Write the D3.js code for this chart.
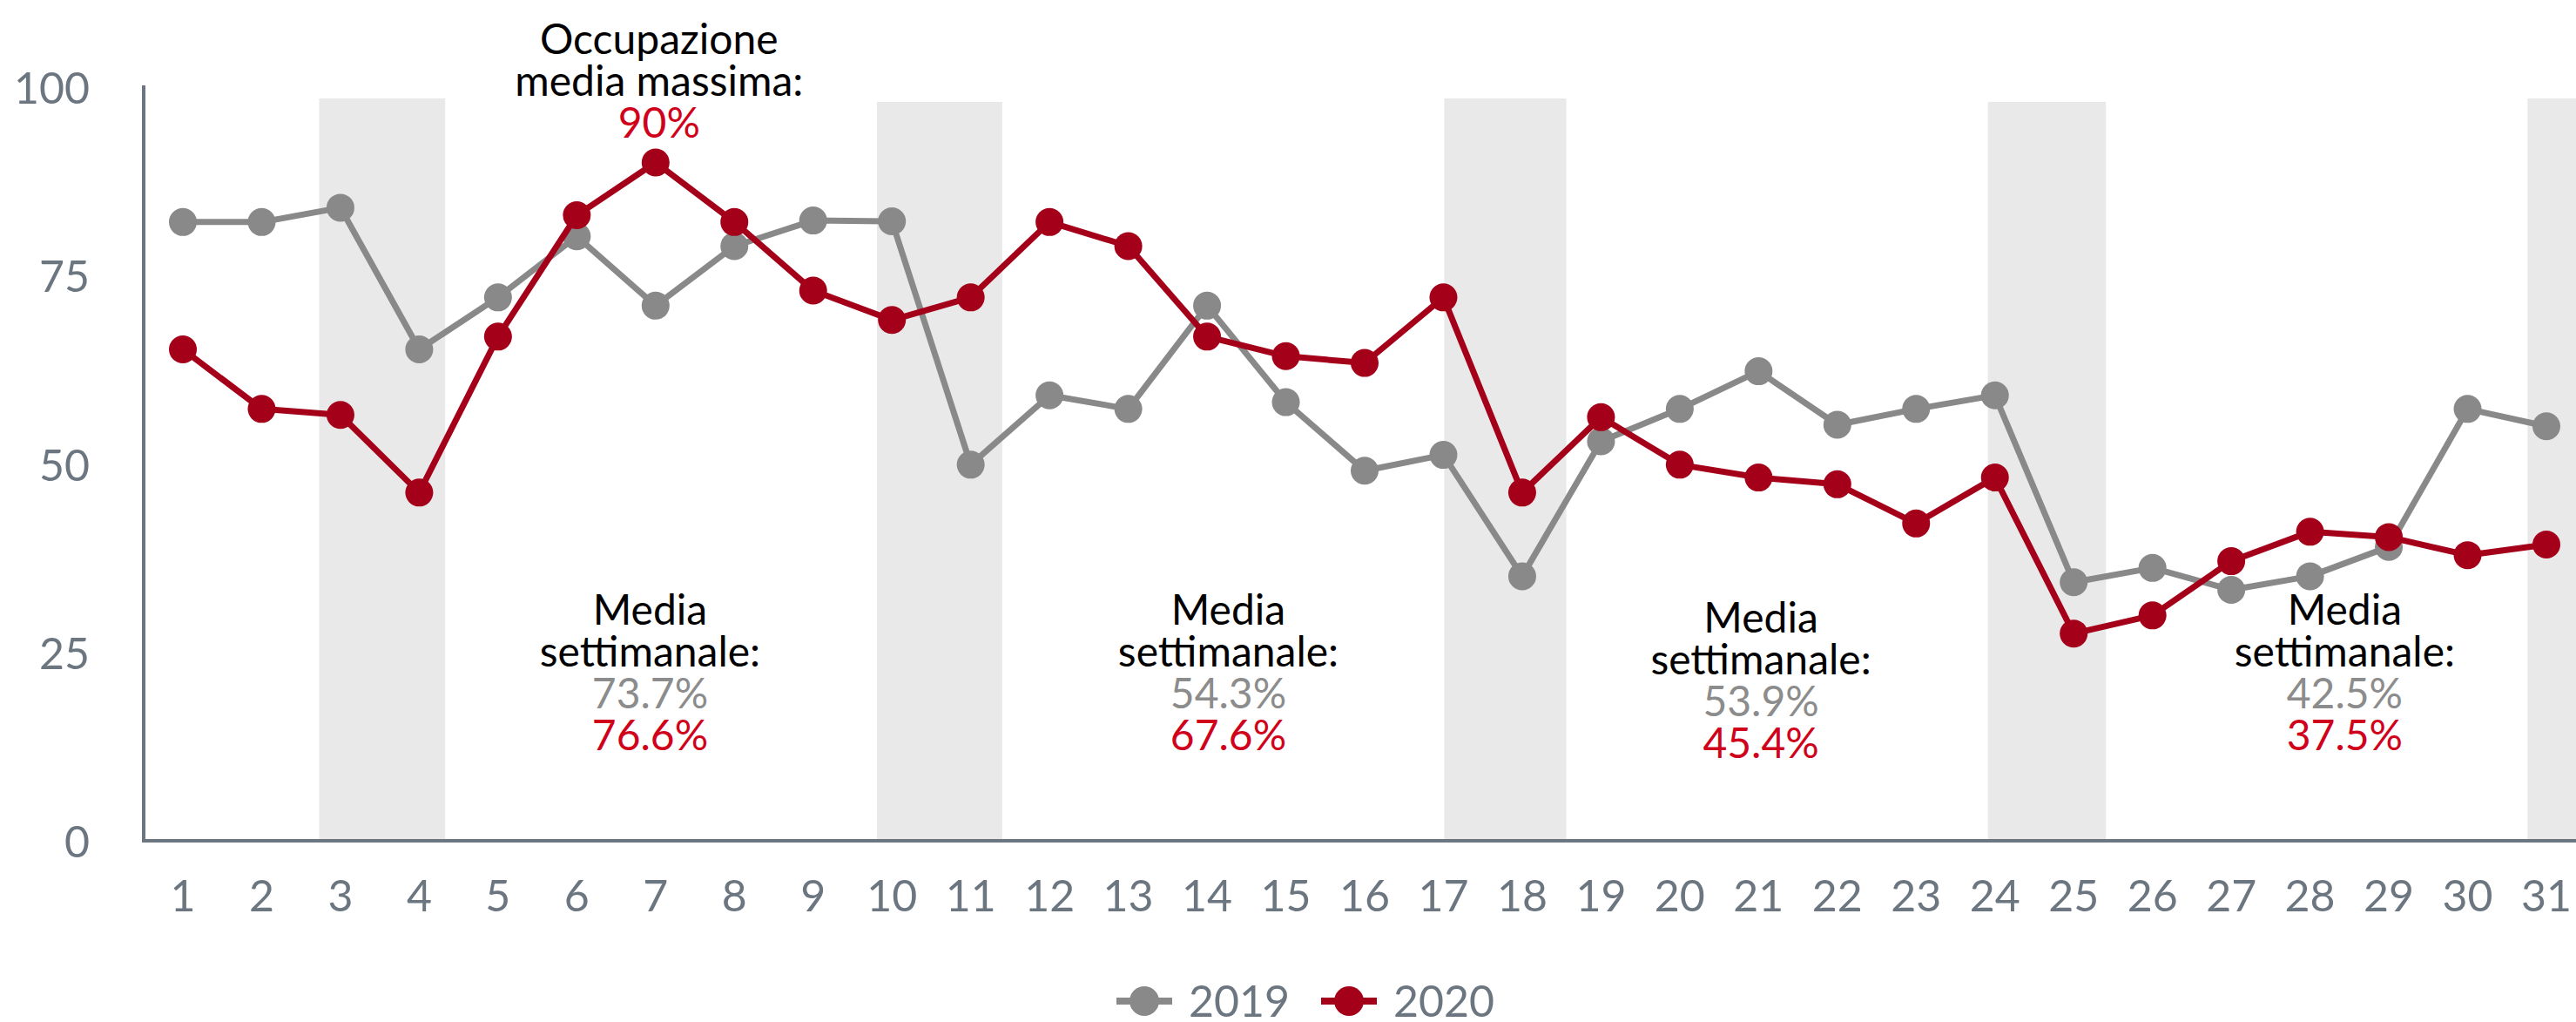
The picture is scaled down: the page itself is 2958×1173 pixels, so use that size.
<!DOCTYPE html>
<html>
<head>
<meta charset="utf-8">
<script src="https://cdnjs.cloudflare.com/ajax/libs/d3/7.8.5/d3.min.js"></script>
<style>
  html, body { margin: 0; padding: 0; background: #fff; overflow: hidden; }
</style>
</head>
<body>
<div id="chart"></div>
<script>
// ---------- data ----------
var days = [1, 2, 3, 4, 5, 6, 7, 8, 9, 10, 11, 12, 13, 14, 15, 16, 17, 18, 19, 20,
            21, 22, 23, 24, 25, 26, 27, 28, 29, 30, 31];

var values2019 = [82.1, 82.1, 84.0, 65.2, 72.1, 80.2, 71.0, 78.9, 82.3, 82.2,
                  49.9, 59.1, 57.3, 71.0, 58.2, 49.1, 51.2, 35.1, 53.0, 57.3,
                  62.3, 55.2, 57.3, 59.1, 34.3, 36.2, 33.3, 35.1, 39.0, 57.3, 55.0];

var values2020 = [65.2, 57.3, 56.5, 46.2, 66.9, 83.0, 90.0, 82.1, 73.0, 69.1,
                  72.1, 82.1, 78.9, 66.9, 64.3, 63.4, 72.1, 46.2, 56.2, 49.9,
                  48.2, 47.3, 42.1, 48.2, 27.5, 29.9, 37.1, 41.0, 40.3, 37.9, 39.3];

var seriesNames = ["2019", "2020"];
var yTicks = [0, 25, 50, 75, 100];

// weekend shading, in day units (start, end)
var weekendBands = [[2.73, 4.33], [9.81, 11.40], [17.01, 18.56], [23.91, 25.41], [30.76, 31.45]];

var weekAvg2019 = ["73.7%", "54.3%", "53.9%", "42.5%"];
var weekAvg2020 = ["76.6%", "67.6%", "45.4%", "37.5%"];
var maxLabel = "90%";

// ---------- settings ----------
var attrs = {
    svgWidth: 2958,
    svgHeight: 1173,
    plotLeft: 165,
    plotRight: 2958,
    plotTop: 98,
    plotBottom: 965,
    firstX: 210,
    lastX: 2924,
    yTop: 100,
    font: 'Lato, "Open Sans", sans-serif',
    axisColor: '#6c7680',
    bandColor: '#e9e9e9',
    color2019: '#898989',
    color2020: '#a50019',
    text2019: '#8c8c8c',
    text2020: '#d0021b',
    tickSize: 50,
    noteSize: 48,
    lineWidth: 7,
    dotRadius: 16
};

// annotation anchors (day units) and vertical tweak per block
var weekLabelDay = [6.93, 14.27, 21.03, 28.44];
var weekLabelShift = [0, 0, 9, 0];

var svg = d3.select('#chart').append('svg')
    .attr('width', attrs.svgWidth)
    .attr('height', attrs.svgHeight)
    .attr('font-family', attrs.font);

//################ SCALES ################
var x = d3.scaleLinear().domain([1, 31]).range([attrs.firstX, attrs.lastX]);
var y = d3.scaleLinear().domain([0, 100]).range([attrs.plotBottom, attrs.yTop]);

//################ BANDS ################
svg.append('g').selectAll('rect')
    .data(weekendBands)
    .join('rect')
    .attr('x', d => x(d[0]))
    .attr('width', d => Math.min(x(d[1]), attrs.svgWidth) - x(d[0]))
    .attr('y', (d, i) => i % 2 === 0 ? 113 : 117)
    .attr('height', (d, i) => attrs.plotBottom - (i % 2 === 0 ? 113 : 117))
    .attr('fill', attrs.bandColor);

//################ AXES ################
svg.append('line')
    .attr('x1', attrs.plotLeft).attr('x2', attrs.plotLeft)
    .attr('y1', attrs.plotTop).attr('y2', attrs.plotBottom + 2)
    .attr('stroke', attrs.axisColor).attr('stroke-width', 4);

svg.append('line')
    .attr('x1', attrs.plotLeft).attr('x2', attrs.plotRight)
    .attr('y1', attrs.plotBottom).attr('y2', attrs.plotBottom)
    .attr('stroke', attrs.axisColor).attr('stroke-width', 4);

svg.append('g').selectAll('text')
    .data(yTicks)
    .join('text')
    .attr('x', 103)
    .attr('y', d => y(d) + 19)
    .attr('text-anchor', 'end')
    .attr('font-size', attrs.tickSize)
    .attr('fill', attrs.axisColor)
    .text(d => d);

svg.append('g').selectAll('text')
    .data(days)
    .join('text')
    .attr('x', d => x(d))
    .attr('y', 1046)
    .attr('text-anchor', 'middle')
    .attr('font-size', attrs.tickSize)
    .attr('fill', attrs.axisColor)
    .text(d => d);

//################ LINES ################
var line = d3.line()
    .x(d => x(d[0]))
    .y(d => y(d[1]));

function drawSeries(vals, color) {
    var pts = days.map((d, i) => [d, vals[i]]);
    var g = svg.append('g');
    g.append('path')
        .datum(pts)
        .attr('d', line)
        .attr('fill', 'none')
        .attr('stroke', color)
        .attr('stroke-width', attrs.lineWidth)
        .attr('stroke-linejoin', 'round');
    g.selectAll('circle')
        .data(pts)
        .join('circle')
        .attr('cx', d => x(d[0]))
        .attr('cy', d => y(d[1]))
        .attr('r', attrs.dotRadius)
        .attr('fill', color);
}
drawSeries(values2019, attrs.color2019);
drawSeries(values2020, attrs.color2020);

//################ ANNOTATIONS ################
function note(cx, baseline, lines) {
    var t = svg.append('text')
        .attr('text-anchor', 'middle')
        .attr('font-size', attrs.noteSize);
    lines.forEach((l, i) => {
        t.append('tspan')
            .attr('x', cx)
            .attr('y', baseline + i * 48)
            .attr('fill', l[1])
            .text(l[0]);
    });
}

// max annotation above day 7
var iMax = values2020.indexOf(d3.max(values2020));
note(x(days[iMax]) + 4, 62, [
    ['Occupazione', '#000'],
    ['media massima:', '#000'],
    [maxLabel, attrs.text2020]
]);

weekAvg2019.forEach((v, i) => {
    note(x(weekLabelDay[i]), 717 + weekLabelShift[i], [
        ['Media', '#000'],
        ['settimanale:', '#000'],
        [v, attrs.text2019],
        [weekAvg2020[i], attrs.text2020]
    ]);
});

//################ LEGEND ################
var legendItems = [
    { name: seriesNames[0], color: attrs.color2019, x: 1282 },
    { name: seriesNames[1], color: attrs.color2020, x: 1517 }
];
var leg = svg.append('g').attr('transform', 'translate(0,1149)');
var item = leg.selectAll('g')
    .data(legendItems)
    .join('g')
    .attr('transform', d => 'translate(' + d.x + ',0)');
item.append('line')
    .attr('x1', 0).attr('x2', 64)
    .attr('stroke', d => d.color)
    .attr('stroke-width', 8);
item.append('circle')
    .attr('cx', 32).attr('r', 17)
    .attr('fill', d => d.color);
item.append('text')
    .attr('x', 83)
    .attr('y', 18)
    .attr('font-size', attrs.tickSize)
    .attr('fill', attrs.axisColor)
    .text(d => d.name);
</script>
</body>
</html>
